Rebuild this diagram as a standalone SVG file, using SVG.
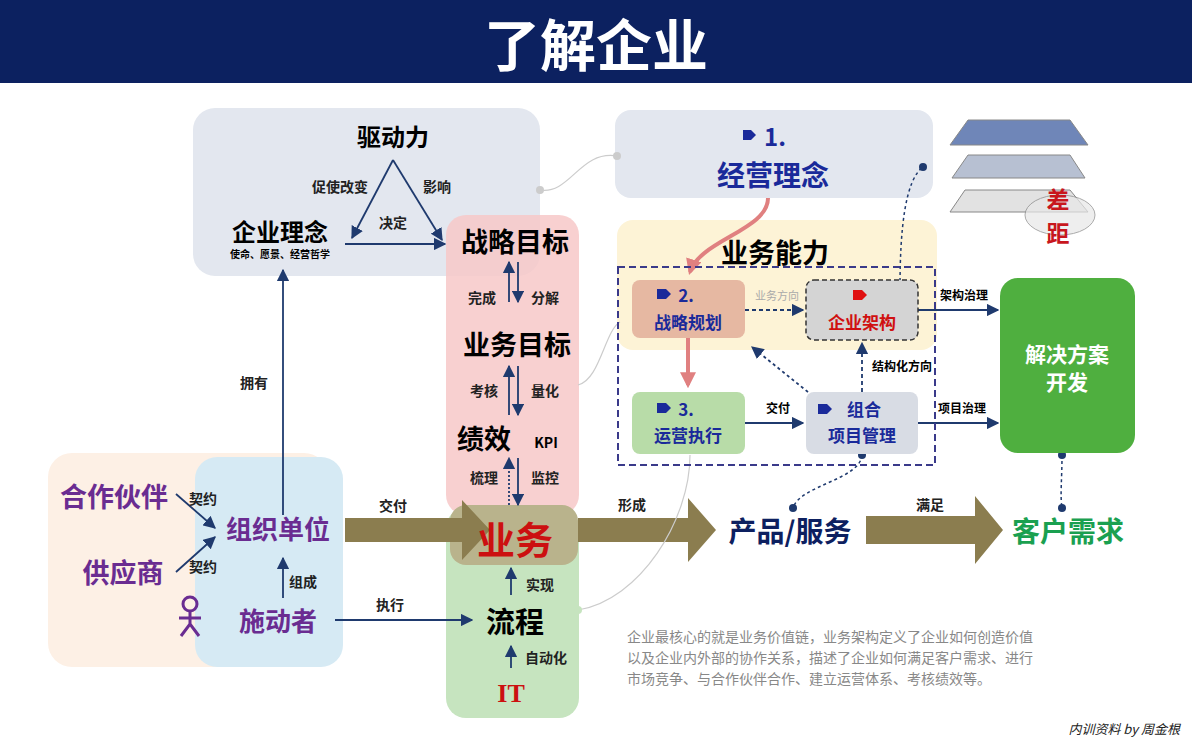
<svg xmlns="http://www.w3.org/2000/svg" width="1192" height="744" viewBox="0 0 1192 744">
<defs>
<style>
text{font-family:"Noto Sans CJK SC","Liberation Sans",sans-serif;text-anchor:middle}
.b{font-weight:bold}
.lbl{font-size:14px;font-weight:bold;fill:#222}
.nv{stroke:#1f3a6e;stroke-width:1.8;fill:none}
.pur{fill:#6a2c91;font-weight:bold}
.olive{fill:#8b7d4f}
.dot{stroke:#1f3a6e;stroke-width:1.5;fill:none;stroke-dasharray:3 3}
.gr{stroke:#ccc;stroke-width:1.2;fill:none}
</style>
<marker id="ah" viewBox="0 0 10 10" refX="9" refY="5" markerWidth="7" markerHeight="7" orient="auto"><path d="M0,0 L10,5 L0,10 z" fill="#1f3a6e"/></marker>
<marker id="ahp" viewBox="0 0 10 10" refX="8" refY="5" markerWidth="4" markerHeight="4" orient="auto"><path d="M0,0 L10,5 L0,10 z" fill="#e08080"/></marker>
</defs>
<rect width="1192" height="744" fill="#fff"/>
<rect width="1192" height="83" fill="#0c2160"/>
<text x="596" y="66" font-size="56" class="b" fill="#fff">了解企业</text>

<rect x="193" y="108" width="347" height="168" rx="22" fill="#e3e7ef"/>
<rect x="48" y="453" width="280" height="214" rx="24" fill="#fdf0e5"/>
<rect x="195" y="457" width="148" height="210" rx="22" fill="#d6eaf4"/>
<rect x="446" y="215" width="133" height="300" rx="20" fill="#f7c8c8" opacity="0.85"/>
<rect x="446" y="508" width="133" height="210" rx="20" fill="#c6e4bf"/>
<rect x="450" y="505" width="128" height="60" rx="16" fill="#b9b38c"/>
<rect x="615" y="110" width="318" height="88" rx="16" fill="#e3e7ef"/>
<rect x="617" y="220" width="320" height="130" rx="16" fill="#fdf3d6"/>

<g id="map" stroke="#888" stroke-width="1">
<polygon points="968,120 1070,120 1088,145 950,145" fill="#6f86b8"/>
<polygon points="968,155 1070,155 1085,178 952,178" fill="#b7c0d2"/>
<polygon points="965,190 1070,190 1088,212 950,212" fill="#e2e2e2"/>
<ellipse cx="1060" cy="215" rx="35" ry="20" fill="#e8e8e8" opacity="0.7"/>
</g>
<text x="1058" y="208" font-size="23" class="b" fill="#c8161d">差</text>
<text x="1058" y="242" font-size="23" class="b" fill="#c8161d">距</text>

<g id="connectors">
<path d="M393,160 L352,238" class="nv" marker-end="url(#ah)"/>
<path d="M393,160 L442,240" class="nv" marker-end="url(#ah)"/>
<path d="M345,244 L445,244" class="nv" marker-end="url(#ah)"/>
<path d="M509,302 L509,262" class="nv" marker-end="url(#ah)"/>
<path d="M518,262 L518,302" class="nv" marker-end="url(#ah)"/>
<path d="M509,415 L509,366" class="nv" marker-end="url(#ah)"/>
<path d="M518,366 L518,415" class="nv" marker-end="url(#ah)"/>
<path d="M509,505 L509,458" class="nv" stroke-dasharray="2 2" marker-end="url(#ah)"/>
<path d="M518,458 L518,505" class="nv" marker-end="url(#ah)"/>
<path d="M511,595 L511,568" class="nv" marker-end="url(#ah)"/>
<path d="M511,668 L511,646" class="nv" marker-end="url(#ah)"/>
<path d="M283,515 L283,270" class="nv" marker-end="url(#ah)"/>
<path d="M283,598 L283,558" class="nv" marker-end="url(#ah)"/>
<path d="M176,494 L215,528" class="nv" marker-end="url(#ah)"/>
<path d="M176,572 L215,537" class="nv" marker-end="url(#ah)"/>
<path d="M335,620 L472,620" class="nv" stroke-width="1.2" marker-end="url(#ah)"/>
<polygon points="345,518 462,518 462,500 490,530 462,560 462,542 345,542" class="olive"/>
<polygon points="578,518 688,518 688,498 716,530 688,562 688,542 578,542" class="olive"/>
<polygon points="866,516 975,516 975,496 1003,530 975,564 975,544 866,544" class="olive"/>
<path d="M745,310 L803,310" class="nv" stroke-width="1.3" stroke-dasharray="4 3" marker-end="url(#ah)"/>
<path d="M745,423 L803,423" class="nv" marker-end="url(#ah)"/>
<path d="M808,392 L752,347" class="nv" stroke-width="1.3" stroke-dasharray="3 3" marker-end="url(#ah)"/>
<path d="M862,392 L862,343" class="nv" stroke-width="1.3" stroke-dasharray="4 3" marker-end="url(#ah)"/>
<path d="M918,310 L998,310" class="nv" marker-end="url(#ah)"/>
<path d="M918,423 L998,423" class="nv" marker-end="url(#ah)"/>
<path d="M688,338 L688,385" stroke="#e08080" stroke-width="4" fill="none" marker-end="url(#ahp)"/>
<path d="M768,198 C768,230 700,240 690,272" stroke="#e08080" stroke-width="4" fill="none" marker-end="url(#ahp)"/>
<path d="M900,287 C900,230 905,180 923,167" class="dot"/>
<circle cx="900" cy="287" r="4" fill="#1f3a6e"/><circle cx="923" cy="167" r="4" fill="#1f3a6e"/>
<path d="M862,455 C860,480 800,485 793,508" class="dot"/>
<circle cx="862" cy="455" r="4" fill="#1f3a6e"/><circle cx="793" cy="508" r="4" fill="#1f3a6e"/>
<path d="M1062,455 C1062,480 1060,495 1062,508" class="dot"/>
<circle cx="1062" cy="455" r="4" fill="#1f3a6e"/><circle cx="1062" cy="508" r="4" fill="#1f3a6e"/>
<path d="M540,190 C570,195 580,150 617,156" class="gr"/>
<circle cx="540" cy="190" r="4" fill="#ccc"/><circle cx="617" cy="156" r="4" fill="#ccc"/>
<path d="M578,385 C600,380 605,330 620,322" class="gr"/>
<path d="M578,610 C640,600 690,520 690,455" class="gr"/>
<circle cx="578" cy="610" r="4" fill="#c6e4bf"/>
</g>

<rect x="618" y="267" width="317" height="198" fill="none" stroke="#3a3a8a" stroke-width="2" stroke-dasharray="7 4"/>

<g id="n-qudongli"><text x="393" y="146" font-size="24" class="b">驱动力</text></g>
<text x="340" y="192" class="lbl">促使改变</text>
<text x="437" y="192" class="lbl">影响</text>
<text x="393" y="228" class="lbl">决定</text>
<g id="n-qiyelinian"><text x="280" y="241" font-size="24" class="b">企业理念</text>
<text x="280" y="258" font-size="10" class="b">使命、愿景、经营哲学</text></g>
<g id="n-zhanlue"><text x="515" y="252" font-size="27" class="b">战略目标</text></g>
<text x="482" y="303" class="lbl">完成</text><text x="545" y="303" class="lbl">分解</text>
<g id="n-yewumubiao"><text x="517" y="355" font-size="27" class="b">业务目标</text></g>
<text x="484" y="396" class="lbl">考核</text><text x="545" y="396" class="lbl">量化</text>
<g id="n-jixiao"><text x="484" y="449" font-size="27" class="b">绩效</text><text x="546" y="448" font-size="14" class="b">KPI</text></g>
<text x="484" y="483" class="lbl">梳理</text><text x="545" y="483" class="lbl">监控</text>
<g id="n-yewu"><text x="515" y="554" font-size="38" class="b" fill="#cc1010">业务</text></g>
<text x="540" y="590" class="lbl">实现</text>
<g id="n-liucheng"><text x="515" y="633" font-size="29" class="b">流程</text></g>
<text x="546" y="663" class="lbl">自动化</text>
<g id="n-it"><text x="511" y="702" font-size="26" class="b" fill="#cc1010" style="font-family:'Liberation Serif',serif">IT</text></g>

<g id="n-huoban"><text x="114" y="507" font-size="27" class="pur">合作伙伴</text></g>
<g id="n-gongying"><text x="123" y="583" font-size="27" class="pur">供应商</text></g>
<text x="203" y="504" class="lbl">契约</text><text x="203" y="572" class="lbl">契约</text>
<g id="n-zuzhi"><text x="278" y="539" font-size="26" class="pur">组织单位</text></g>
<text x="303" y="587" class="lbl">组成</text>
<g id="n-shidong"><text x="278" y="631" font-size="26" class="pur">施动者</text>
<g stroke="#6a2c91" stroke-width="3" fill="none"><circle cx="190" cy="604" r="7"/><path d="M190,611 V624 M179,618 H201 M181,636 L190,624 L199,636"/></g></g>
<text x="254" y="388" class="lbl">拥有</text>
<text x="393" y="511" class="lbl">交付</text>
<text x="390" y="610" class="lbl">执行</text>
<text x="632" y="510" class="lbl">形成</text>
<text x="930" y="510" class="lbl">满足</text>
<g id="n-chanpin"><text x="790" y="542" font-size="28" class="b" fill="#0d2060">产品/服务</text></g>
<g id="n-kehu"><text x="1068" y="542" font-size="28" class="b" fill="#1aa050">客户需求</text></g>

<g id="n-jingying"><path d="M743,130 h8 l5,5 l-5,5 h-8 z" fill="#1a2a9a"/><text x="775" y="146" font-size="24" class="b" fill="#1a2a9a">1.</text>
<text x="773" y="186" font-size="28" class="b" fill="#1a2a9a">经营理念</text></g>
<text x="775" y="263" font-size="27" class="b">业务能力</text>
<g id="n-guihua"><rect x="632" y="280" width="113" height="58" rx="8" fill="#e6b8a2"/>
<path d="M657,289 h9 l5,5 l-5,5 h-9 z" fill="#1a2a9a"/><text x="686" y="302" font-size="17" class="b" fill="#1a2a9a">2.</text>
<text x="688" y="329" font-size="17" class="b" fill="#1a2a9a">战略规划</text></g>
<text x="777" y="300" font-size="11" fill="#aaa">业务方向</text>
<g id="n-jiagou"><rect x="806" y="280" width="112" height="60" rx="8" fill="#d4d4d4" stroke="#333" stroke-width="1.5" stroke-dasharray="5 3"/>
<path d="M853,290 h9 l5,5 l-5,5 h-9 z" fill="#e01010"/><text x="862" y="329" font-size="17" class="b" fill="#d01010">企业架构</text></g>
<g id="n-yunying"><rect x="632" y="392" width="113" height="62" rx="8" fill="#b8dca8"/>
<path d="M657,403 h9 l5,5 l-5,5 h-9 z" fill="#1a2a9a"/><text x="686" y="416" font-size="17" class="b" fill="#1a2a9a">3.</text>
<text x="688" y="442" font-size="17" class="b" fill="#1a2a9a">运营执行</text></g>
<text x="778" y="413" font-size="12" class="b">交付</text>
<g id="n-xiangmu"><rect x="806" y="392" width="112" height="62" rx="8" fill="#d8dce4"/>
<path d="M818,404 h9 l5,5 l-5,5 h-9 z" fill="#1a2a9a"/><text x="864" y="416" font-size="17" class="b" fill="#1a2a9a">组合</text>
<text x="862" y="442" font-size="17" class="b" fill="#1a2a9a">项目管理</text></g>
<text x="902" y="371" font-size="12" class="b">结构化方向</text>
<text x="964" y="300" font-size="12" class="b">架构治理</text>
<text x="962" y="413" font-size="12" class="b">项目治理</text>
<g id="n-jiejue"><rect x="1000" y="278" width="135" height="175" rx="18" fill="#4faf3f"/>
<text x="1067" y="362" font-size="21" class="b" fill="#fff">解决方案</text><text x="1067" y="390" font-size="21" class="b" fill="#fff">开发</text></g>

<g font-size="14" fill="#888">
<text x="627" y="642" style="text-anchor:start">企业最核心的就是业务价值链，业务架构定义了企业如何创造价值</text>
<text x="627" y="663" style="text-anchor:start">以及企业内外部的协作关系，描述了企业如何满足客户需求、进行</text>
<text x="627" y="684" style="text-anchor:start">市场竞争、与合作伙伴合作、建立运营体系、考核绩效等。</text>
</g>
<text x="1180" y="734" font-size="13" font-style="italic" fill="#222" style="text-anchor:end">内训资料 by 周金根</text>
</svg>
